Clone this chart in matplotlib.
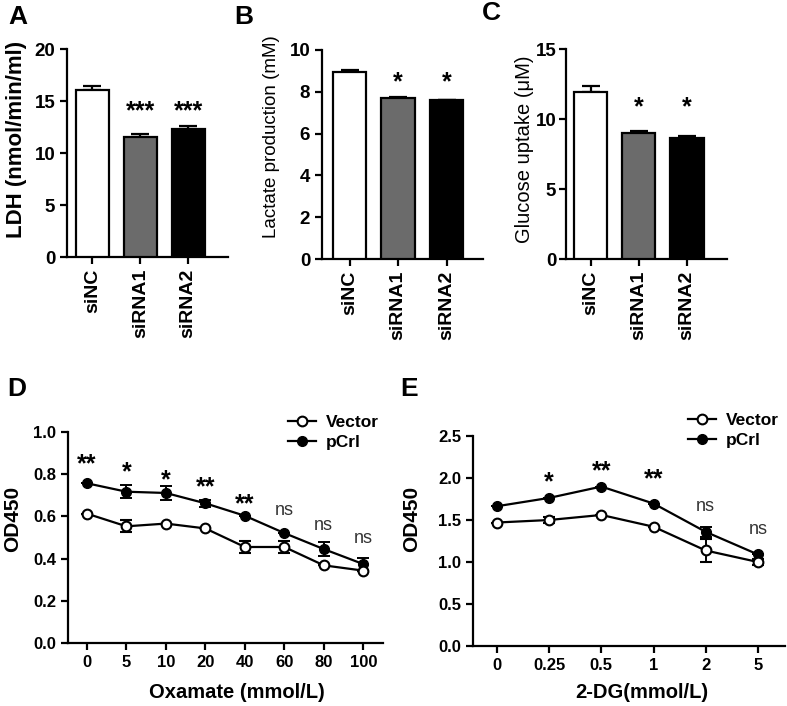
import numpy as np
import matplotlib
matplotlib.use("Agg")
import matplotlib.pyplot as plt
from matplotlib.lines import Line2D

plt.rcParams['font.family'] = ['Liberation Sans', 'DejaVu Sans']

### bar panels data ###
groups = ["siNC", "siRNA1", "siRNA2"]
bar_colors = ["white", "#6b6b6b", "black"]

ldh = [16.1, 11.58, 12.28]
ldh_err = [0.33, 0.22, 0.32]
ldh_sig = ["", "***", "***"]
ldh_sig_y = 14.0

lactate = [8.95, 7.70, 7.60]
lactate_err = [0.09, 0.06, 0.0]
lactate_sig = ["", "*", "*"]
lactate_sig_y = 8.45

glucose = [11.93, 9.02, 8.61]
glucose_err = [0.40, 0.14, 0.17]
glucose_sig = ["", "*", "*"]
glucose_sig_y = 10.85

### line panels data ###
oxamate = ["0", "5", "10", "20", "40", "60", "80", "100"]
ox_vector = [0.613, 0.553, 0.566, 0.543, 0.455, 0.455, 0.368, 0.343]
ox_vector_err = [0.0, 0.028, 0.0, 0.0, 0.028, 0.03, 0.0, 0.0]
ox_pcrl = [0.757, 0.717, 0.711, 0.662, 0.603, 0.521, 0.445, 0.374]
ox_pcrl_err = [0.0, 0.032, 0.032, 0.017, 0.0, 0.0, 0.035, 0.028]
ox_sig = ["**", "*", "*", "**", "**", "ns", "ns", "ns"]
ox_sig_y = [0.845, 0.81, 0.77, 0.737, 0.658, 0.63, 0.556, 0.494]

dg = ["0", "0.25", "0.5", "1", "2", "5"]
dg_vector = [1.47, 1.50, 1.56, 1.42, 1.137, 1.00]
dg_vector_err = [0.0, 0.03, 0.0, 0.0, 0.14, 0.03]
dg_pcrl = [1.664, 1.763, 1.898, 1.696, 1.359, 1.09]
dg_pcrl_err = [0.0, 0.0, 0.0, 0.0, 0.06, 0.0]
dg_sig = ["", "*", "**", "**", "ns", "ns"]
dg_sig_y = [0, 1.95, 2.08, 1.98, 1.66, 1.39]

W, H = 787, 706
fig = plt.figure(figsize=(W/100, H/100), dpi=100)

def ax_at(l, r, t, b):
    return fig.add_axes([l/W, 1 - b/H, (r - l)/W, (b - t)/H])

def style(ax, fs=12, xfs=None):
    for s in ["top", "right"]:
        ax.spines[s].set_visible(False)
    for s in ["left", "bottom"]:
        ax.spines[s].set_linewidth(1.6)
    ax.tick_params(width=1.6, length=5, labelsize=fs)
    if xfs:
        ax.tick_params(axis="x", labelsize=xfs)
    for lab in ax.get_yticklabels() + ax.get_xticklabels():
        lab.set_fontweight("bold")

def bar_panel(ax, vals, errs, sig, sig_y, ymax, step, xlim):
    x = np.arange(len(groups))
    ax.bar(x, vals, width=0.69, color=bar_colors, edgecolor="black", linewidth=1.6, zorder=3)
    ax.errorbar(x, vals, yerr=[np.zeros(len(vals)), errs], fmt="none", ecolor="black",
                elinewidth=1.6, capsize=6.5, capthick=1.6, zorder=2)
    for i, s in enumerate(sig):
        if s:
            ax.text(i, sig_y, s, ha="center", va="center", fontsize=18, fontweight="bold")
    ax.set_ylim(0, ymax)
    ax.set_yticks(np.arange(0, ymax + 0.01, step))
    ax.set_xlim(*xlim)
    ax.set_xticks(x)
    ax.set_xticklabels(groups, rotation=90)
    style(ax, 13.5, 14)

axA = ax_at(67, 228, 49, 257)
bar_panel(axA, ldh, ldh_err, ldh_sig, ldh_sig_y, 20, 5, (-0.53, 2.83))
axB = ax_at(322, 483, 50, 259)
bar_panel(axB, lactate, lactate_err, lactate_sig, lactate_sig_y, 10, 2, (-0.57, 2.75))
axC = ax_at(566, 727, 49, 259)
bar_panel(axC, glucose, glucose_err, glucose_sig, glucose_sig_y, 15, 5, (-0.51, 2.83))
axC.tick_params(axis="y", pad=2)

fig.text(17/W, 1 - 139/H, "LDH (nmol/min/ml)", rotation=90, ha="center", va="center",
         rotation_mode="anchor", fontsize=16, fontweight="bold")
fig.text(271/W, 1 - 137/H, "Lactate production (mM)", rotation=90, ha="center", va="center",
         rotation_mode="anchor", fontsize=13.5)
fig.text(524/W, 1 - 149/H, "Glucose uptake (\u03bcM)", rotation=90, ha="center", va="center",
         rotation_mode="anchor", fontsize=14.5)

def line_panel(ax, cats, vec, vec_err, pc, pc_err, sig, sig_y, ymax, step, xlim):
    x = np.arange(len(cats))
    ax.errorbar(x, pc, yerr=pc_err, color="black", lw=1.6, marker="o", ms=7, mfc="black",
                mec="black", capsize=4, capthick=1.4, elinewidth=1.4, zorder=3)
    ax.errorbar(x, vec, yerr=vec_err, color="black", lw=1.6, marker="o", ms=7, mfc="white",
                mec="black", mew=1.5, capsize=4, capthick=1.4, elinewidth=1.4, zorder=4)
    for i, s in enumerate(sig):
        if s == "ns":
            ax.text(i, sig_y[i], s, ha="center", va="center", fontsize=13, color="#333333")
        elif s:
            ax.text(i, sig_y[i], s, ha="center", va="center", fontsize=18, fontweight="bold")
    ax.set_ylim(0, ymax)
    ax.set_yticks(np.arange(0, ymax + 0.01, step))
    ax.yaxis.set_major_formatter(matplotlib.ticker.FormatStrFormatter("%.1f"))
    ax.set_xlim(*xlim)
    ax.set_xticks(x)
    ax.set_xticklabels(cats)
    style(ax, 12)

def add_legend(ax, px, py):
    handles = [Line2D([], [], color="black", lw=1.6, marker="o", ms=7, mfc="white", mec="black", mew=1.5),
               Line2D([], [], color="black", lw=1.6, marker="o", ms=7, mfc="black", mec="black")]
    ax.legend(handles, ["Vector", "pCrl"], loc="upper left", bbox_to_anchor=(px/W, 1 - py/H),
              bbox_transform=fig.transFigure, frameon=False, handlelength=1.6, handletextpad=0.6,
              labelspacing=0.3, prop={"weight": "bold", "size": 12.5}, borderaxespad=0)

axD = ax_at(68, 383, 432, 643)
line_panel(axD, oxamate, ox_vector, ox_vector_err, ox_pcrl, ox_pcrl_err, ox_sig, ox_sig_y,
           1.0, 0.2, (-0.48, 7.5))
add_legend(axD, 281, 408)

axE = ax_at(473, 785, 436, 646)
line_panel(axE, dg, dg_vector, dg_vector_err, dg_pcrl, dg_pcrl_err, dg_sig, dg_sig_y,
           2.5, 0.5, (-0.46, 5.52))
add_legend(axE, 681, 406)

fig.text(13/W, 1 - 519/H, "OD450", rotation=90, ha="center", va="center",
         rotation_mode="anchor", fontsize=15, fontweight="bold")
fig.text(412/W, 1 - 519/H, "OD450", rotation=90, ha="center", va="center",
         rotation_mode="anchor", fontsize=15, fontweight="bold")
fig.text(237/W, 1 - 693/H, "Oxamate (mmol/L)", ha="center", va="center", fontsize=14.5, fontweight="bold")
fig.text(642/W, 1 - 692/H, "2-DG(mmol/L)", ha="center", va="center", fontsize=14.5, fontweight="bold")

for lbl, px, py in [("A", 18, 17), ("B", 244, 17), ("C", 491, 13), ("D", 17, 389), ("E", 409, 389)]:
    fig.text(px/W, 1 - py/H, lbl, ha="center", va="center", fontsize=19, fontweight="bold")

fig.savefig("out.png", dpi=100)
